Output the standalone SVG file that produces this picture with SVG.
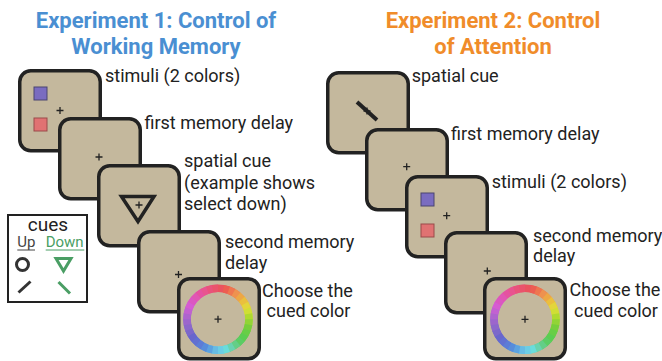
<svg xmlns="http://www.w3.org/2000/svg" xmlns:xlink="http://www.w3.org/1999/xlink" width="662" height="361" viewBox="0 0 662 361">
<style>
.pan{fill:#c4b89d;stroke:#222;stroke-width:3.5}
.lbl{font-family:Roboto,"Liberation Sans",sans-serif;font-size:18px;fill:#222}
.ttl{font-family:Roboto,"Liberation Sans",sans-serif;font-size:22px;font-weight:bold;text-anchor:middle}
.fx{stroke:#222;stroke-width:1.3;fill:none}
.sqb{fill:#7a6cc0;stroke:#4a4470;stroke-width:1}
.sqr{fill:#e07272;stroke:#9a4a4a;stroke-width:1}
.seg{fill:none;stroke-width:7.6}
</style>
<defs>
<path id="fx" class="fx" d="M-3.5 0H3.5M0 -3.5V3.5"/>
<g id="wheel">
<path class="seg" stroke="hsl(355,78%,62%)" d="M0 -31A31 31 0 0 1 10.603 -29.130"/>
<path class="seg" stroke="hsl(5,80%,62%)" d="M5.383 -30.529A31 31 0 0 1 15.5 -26.847"/>
<path class="seg" stroke="hsl(15,82%,62%)" d="M10.603 -29.130A31 31 0 0 1 19.926 -23.747"/>
<path class="seg" stroke="hsl(25,82%,62%)" d="M15.5 -26.847A31 31 0 0 1 23.747 -19.926"/>
<path class="seg" stroke="hsl(35,82%,60%)" d="M19.926 -23.747A31 31 0 0 1 26.847 -15.5"/>
<path class="seg" stroke="hsl(45,80%,58%)" d="M23.747 -19.926A31 31 0 0 1 29.130 -10.603"/>
<path class="seg" stroke="hsl(55,75%,56%)" d="M26.847 -15.5A31 31 0 0 1 30.529 -5.383"/>
<path class="seg" stroke="hsl(65,72%,54%)" d="M29.130 -10.603A31 31 0 0 1 31 0"/>
<path class="seg" stroke="hsl(75,70%,52%)" d="M30.529 -5.383A31 31 0 0 1 30.529 5.383"/>
<path class="seg" stroke="hsl(85,65%,52%)" d="M31 0A31 31 0 0 1 29.130 10.603"/>
<path class="seg" stroke="hsl(95,60%,52%)" d="M30.529 5.383A31 31 0 0 1 26.847 15.5"/>
<path class="seg" stroke="hsl(105,58%,54%)" d="M29.130 10.603A31 31 0 0 1 23.747 19.926"/>
<path class="seg" stroke="hsl(115,55%,56%)" d="M26.847 15.5A31 31 0 0 1 19.926 23.747"/>
<path class="seg" stroke="hsl(125,52%,58%)" d="M23.747 19.926A31 31 0 0 1 15.5 26.847"/>
<path class="seg" stroke="hsl(140,52%,60%)" d="M19.926 23.747A31 31 0 0 1 10.603 29.130"/>
<path class="seg" stroke="hsl(160,55%,62%)" d="M15.5 26.847A31 31 0 0 1 5.383 30.529"/>
<path class="seg" stroke="hsl(180,62%,64%)" d="M10.603 29.130A31 31 0 0 1 0 31"/>
<path class="seg" stroke="hsl(192,70%,66%)" d="M5.383 30.529A31 31 0 0 1 -5.383 30.529"/>
<path class="seg" stroke="hsl(200,70%,65%)" d="M0 31A31 31 0 0 1 -10.603 29.130"/>
<path class="seg" stroke="hsl(208,68%,62%)" d="M-5.383 30.529A31 31 0 0 1 -15.5 26.847"/>
<path class="seg" stroke="hsl(216,65%,60%)" d="M-10.603 29.130A31 31 0 0 1 -19.926 23.747"/>
<path class="seg" stroke="hsl(224,60%,60%)" d="M-15.5 26.847A31 31 0 0 1 -23.747 19.926"/>
<path class="seg" stroke="hsl(232,55%,60%)" d="M-19.926 23.747A31 31 0 0 1 -26.847 15.5"/>
<path class="seg" stroke="hsl(242,50%,60%)" d="M-23.747 19.926A31 31 0 0 1 -29.130 10.603"/>
<path class="seg" stroke="hsl(252,48%,60%)" d="M-26.847 15.5A31 31 0 0 1 -30.529 5.383"/>
<path class="seg" stroke="hsl(262,48%,60%)" d="M-29.130 10.603A31 31 0 0 1 -31 0"/>
<path class="seg" stroke="hsl(272,50%,60%)" d="M-30.529 5.383A31 31 0 0 1 -30.529 -5.383"/>
<path class="seg" stroke="hsl(282,52%,60%)" d="M-31 0A31 31 0 0 1 -29.130 -10.603"/>
<path class="seg" stroke="hsl(292,55%,60%)" d="M-30.529 -5.383A31 31 0 0 1 -26.847 -15.5"/>
<path class="seg" stroke="hsl(302,60%,60%)" d="M-29.130 -10.603A31 31 0 0 1 -23.747 -19.926"/>
<path class="seg" stroke="hsl(312,65%,60%)" d="M-26.847 -15.5A31 31 0 0 1 -19.926 -23.747"/>
<path class="seg" stroke="hsl(320,70%,61%)" d="M-23.747 -19.926A31 31 0 0 1 -15.5 -26.847"/>
<path class="seg" stroke="hsl(328,74%,61%)" d="M-19.926 -23.747A31 31 0 0 1 -10.603 -29.130"/>
<path class="seg" stroke="hsl(336,76%,62%)" d="M-15.5 -26.847A31 31 0 0 1 -5.383 -30.529"/>
<path class="seg" stroke="hsl(344,77%,62%)" d="M-10.603 -29.130A31 31 0 0 1 0 -31"/>
<path class="seg" stroke="hsl(350,78%,62%)" d="M-5.383 -30.529A31 31 0 0 1 0 -31"/>
</g>
</defs>
<rect width="662" height="361" fill="#ffffff"/>

<g id="title1">
<text class="ttl" fill="#4a8fd2" x="156" y="27.5">Experiment 1: Control of</text>
<text class="ttl" fill="#4a8fd2" x="156" y="53.5">Working Memory</text>
</g>
<g id="title2">
<text class="ttl" fill="#f08c2a" x="493" y="27.5">Experiment 2: Control</text>
<text class="ttl" fill="#f08c2a" x="493" y="53.5">of Attention</text>
</g>

<g id="e1-stimuli">
<rect class="pan" x="19.75" y="70.75" width="80.5" height="80" rx="11"/>
<rect class="sqb" x="34" y="87" width="13" height="13"/>
<rect class="sqr" x="34" y="118" width="13" height="13"/>
<use href="#fx" x="60" y="110.5"/>
<text class="lbl" x="105" y="81.5">stimuli (2 colors)</text>
</g>
<g id="e1-delay1">
<rect class="pan" x="59.75" y="118.75" width="80.5" height="80" rx="11"/>
<use href="#fx" x="99" y="157"/>
<text class="lbl" x="144.5" y="129">first memory delay</text>
</g>
<g id="e1-cue">
<rect class="pan" x="98.75" y="165.75" width="80.5" height="80" rx="11"/>
<polygon points="121.5,196.5 154,196.5 138,221.5" fill="none" stroke="#222" stroke-width="3.5"/>
<use href="#fx" x="139" y="205"/>
<text class="lbl" x="184" y="167.3">spatial cue</text>
<text class="lbl" x="184" y="188.5">(example shows</text>
<text class="lbl" x="184" y="210">select down)</text>
</g>
<g id="e1-delay2">
<rect class="pan" x="138.75" y="231.75" width="80.5" height="80" rx="11"/>
<use href="#fx" x="178.5" y="274.5"/>
<text class="lbl" x="225" y="247.7">second memory</text>
<text class="lbl" x="225" y="268.5">delay</text>
</g>
<g id="e1-response">
<rect class="pan" x="178.75" y="278.75" width="80.5" height="80" rx="11"/>
<use href="#wheel" x="218" y="319.2"/>
<use href="#fx" x="218" y="319.2"/>
<text class="lbl" x="307.5" y="296.5" text-anchor="middle">Choose the</text>
<text class="lbl" x="308.5" y="317" text-anchor="middle">cued color</text>
</g>

<g id="legend">
<rect x="8" y="215" width="79" height="87" fill="#ffffff" stroke="#222" stroke-width="2"/>
<text x="48" y="231" text-anchor="middle" style="font-family:Roboto,'Liberation Sans',sans-serif;font-size:19px;fill:#222">cues</text>
<text x="17.3" y="247" style="font-family:Roboto,'Liberation Sans',sans-serif;font-size:15px;fill:#444">Up</text>
<line x1="17.3" y1="250" x2="35" y2="250" stroke="#444" stroke-width="1"/>
<text x="45.7" y="247" style="font-family:Roboto,'Liberation Sans',sans-serif;font-size:15px;fill:#4a9e64">Down</text>
<line x1="45.7" y1="250" x2="84.3" y2="250" stroke="#4a9e64" stroke-width="1"/>
<circle cx="22.5" cy="264.5" r="6" fill="none" stroke="#333" stroke-width="3"/>
<polygon points="56,258.5 71,258.5 63.5,271" fill="none" stroke="#4a9e64" stroke-width="3"/>
<line x1="18.5" y1="292.5" x2="30.5" y2="281.5" stroke="#333" stroke-width="3"/>
<line x1="58.5" y1="282" x2="70" y2="293.5" stroke="#4a9e64" stroke-width="3"/>
</g>

<g id="e2-cue">
<rect class="pan" x="327.75" y="72.75" width="80.5" height="80" rx="11"/>
<use href="#fx" x="367" y="111"/>
<line x1="357" y1="102" x2="377" y2="120" stroke="#222" stroke-width="4"/>
<text class="lbl" x="411.7" y="82">spatial cue</text>
</g>
<g id="e2-delay1">
<rect class="pan" x="366.75" y="129.75" width="80.5" height="80" rx="11"/>
<use href="#fx" x="406.7" y="166.7"/>
<text class="lbl" x="451" y="140">first memory delay</text>
</g>
<g id="e2-stimuli">
<rect class="pan" x="406.75" y="176.75" width="80.5" height="80" rx="11"/>
<rect class="sqb" x="421" y="193" width="13" height="13"/>
<rect class="sqr" x="421" y="224" width="13" height="13"/>
<use href="#fx" x="446.7" y="215.7"/>
<text class="lbl" x="491.7" y="188.3">stimuli (2 colors)</text>
</g>
<g id="e2-delay2">
<rect class="pan" x="445.75" y="232.75" width="80.5" height="80" rx="11"/>
<use href="#fx" x="487.3" y="271"/>
<text class="lbl" x="533" y="241.7">second memory</text>
<text class="lbl" x="533" y="262">delay</text>
</g>
<g id="e2-response">
<rect class="pan" x="484.75" y="278.75" width="80.5" height="80" rx="11"/>
<use href="#wheel" x="525" y="319.3"/>
<use href="#fx" x="525" y="319.3"/>
<text class="lbl" x="615" y="295.5" text-anchor="middle">Choose the</text>
<text class="lbl" x="616" y="316.5" text-anchor="middle">cued color</text>
</g>
</svg>
